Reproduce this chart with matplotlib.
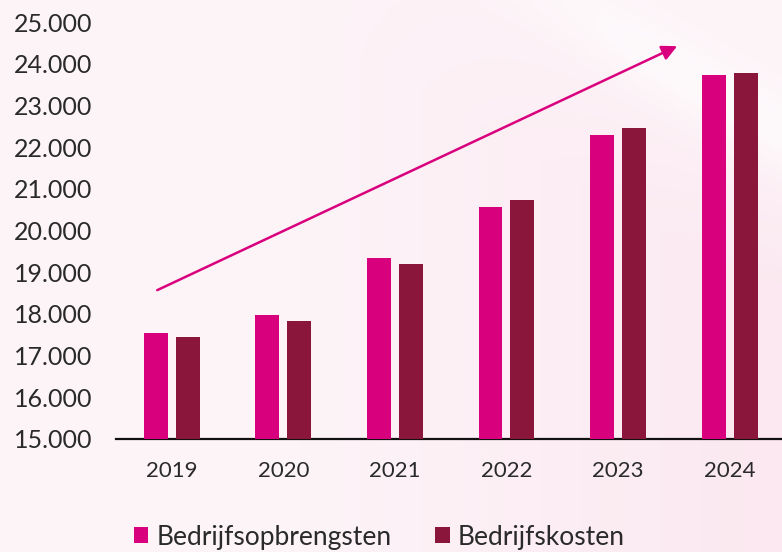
import matplotlib
matplotlib.use("Agg")
import matplotlib.pyplot as plt
import numpy as np

years = ["2019", "2020", "2021", "2022", "2023", "2024"]
opbrengsten = [17540, 17970, 19340, 20570, 22290, 23730]
kosten = [17450, 17830, 19200, 20720, 22460, 23780]
yticks = [15000, 16000, 17000, 18000, 19000, 20000, 21000, 22000, 23000, 24000, 25000]
ytick_labels = ["15.000", "16.000", "17.000", "18.000", "19.000", "20.000",
                "21.000", "22.000", "23.000", "24.000", "25.000"]
arrow_start = (-0.13, 18570)
arrow_end = (4.53, 24420)

c_pink = "#D9007E"
c_maroon = "#8A173B"
txt = "#2a2a2a"

plt.rcParams['font.family'] = ['Lato', 'DejaVu Sans']

fig = plt.figure(figsize=(7.82, 5.52), dpi=100)
fig.patch.set_facecolor("#FDF3F8")

# background gradient
bg = fig.add_axes([0, 0, 1, 1], zorder=-10)
h, w = 552, 782
yy, xx = np.mgrid[0:h, 0:w]
base = np.array([253, 244, 248]) / 255.0
pinker = np.array([251, 232, 240]) / 255.0
light = np.array([254, 250, 252]) / 255.0
d = (yy - (xx - 540) * (140 / 242.0))
t = np.clip((xx - 300) / 482.0, 0, 1) * np.clip((d + 40) / 200.0, 0, 1)
img = base[None, None, :] * (1 - t[..., None]) + pinker[None, None, :] * t[..., None]
band = np.exp(-((d + 10) / 40.0) ** 2) * np.clip((xx - 450) / 200.0, 0, 1)
img = img * (1 - band[..., None]) + light[None, None, :] * band[..., None]
bg.imshow(img, aspect='auto', extent=[0, 1, 0, 1])
bg.axis('off')

ax = fig.add_axes([116 / 782, 1 - 439 / 552, 666 / 782, (439 - 22) / 552])
ax.patch.set_alpha(0)

x = np.arange(len(years))
bw = 0.215
off = 0.143
ax.bar(x - off, [v - 15000 for v in opbrengsten], bw, bottom=15000, color=c_pink,
       label="Bedrijfsopbrengsten", zorder=3)
ax.bar(x + off, [v - 15000 for v in kosten], bw, bottom=15000, color=c_maroon,
       label="Bedrijfskosten", zorder=3)

ax.set_xlim(-0.5, 5.47)
ax.set_ylim(15000, 25000)
ax.set_yticks(yticks)
ax.set_yticklabels(ytick_labels, fontsize=18, color=txt)
ax.set_xticks(x)
ax.set_xticklabels(years, fontsize=16, color=txt)
ax.tick_params(axis='both', length=0)
ax.tick_params(axis='y', pad=17)
ax.tick_params(axis='x', pad=16)
for s in ["left", "right", "top"]:
    ax.spines[s].set_visible(False)
ax.spines["bottom"].set_color("#111111")
ax.spines["bottom"].set_linewidth(1.6)

ax.annotate("", xy=arrow_end, xytext=arrow_start,
            arrowprops=dict(arrowstyle="-|>,head_length=0.9,head_width=0.45",
                            color=c_pink, lw=1.8, shrinkA=0, shrinkB=0), zorder=4)

leg = fig.legend(loc="lower left", bbox_to_anchor=(110 / 782, -0.039), ncol=2, frameon=False,
                 prop={'size': 19},
                 handlelength=0.55, handleheight=0.55, handletextpad=0.3,
                 columnspacing=1.66, labelcolor=txt)

fig.savefig("out.png", dpi=100, facecolor=fig.get_facecolor())
